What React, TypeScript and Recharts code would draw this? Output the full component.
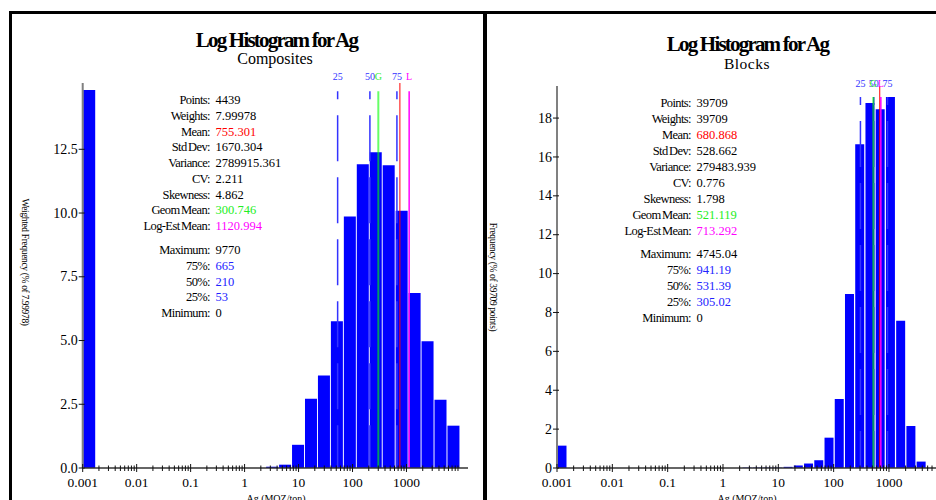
import React from 'react';
import { ComposedChart, Bar, XAxis, YAxis, ReferenceLine } from 'recharts';

// log10 lower edge of each bin; the first bin holds the zero values, drawn at 0.001
const compBinLo = [-3, 0.39, 0.63, 0.87, 1.11, 1.35, 1.59, 1.83, 2.07, 2.31, 2.55, 2.79, 3.03, 3.27, 3.51, 3.75];
const compFreq = [14.83, 0.05, 0.13, 0.91, 2.72, 3.63, 5.76, 9.86, 11.91, 12.38, 11.87, 10.09, 6.86, 4.97, 2.68, 1.66];
const compBinWidth = 0.24;

const blockBinLo = [-3, 0.346, 0.531, 0.716, 0.901, 1.086, 1.271, 1.456, 1.641, 1.826, 2.011, 2.196, 2.381, 2.566, 2.751, 2.936, 3.121, 3.306, 3.491];
const blockFreq = [1.15, 0.02, 0.02, 0.02, 0.02, 0.06, 0.13, 0.23, 0.4, 1.56, 3.55, 8.95, 16.66, 18.78, 18.46, 19.09, 7.57, 2.16, 0.33];
const blockBinWidth = 0.185;

const majorLabels = ['0.001', '0.01', '0.1', '1', '10', '100', '1000'];
const compYTicks = [0, 2.5, 5, 7.5, 10, 12.5];
const blockYTicks = [0, 2, 4, 6, 8, 10, 12, 14, 16, 18];

const statLabels = ['Points:', 'Weights:', 'Mean:', 'Std Dev:', 'Variance:', 'CV:', 'Skewness:', 'Geom Mean:', 'Log-Est Mean:', 'Maximum:', '75%:', '50%:', '25%:', 'Minimum:'];
const compStats = ['4439', '7.99978', '755.301', '1670.304', '2789915.361', '2.211', '4.862', '300.746', '1120.994', '9770', '665', '210', '53', '0'];
const blockStats = ['39709', '39709', '680.868', '528.662', '279483.939', '0.776', '1.798', '521.119', '713.292', '4745.04', '941.19', '531.39', '305.02', '0'];

const FONT = '"Liberation Serif", "Times New Roman", serif';
const BLUE_LINE = '#3333ff';

const valueColor = (i: number) => {
  if (i === 2) return '#ff0000';
  if (i === 7) return '#22ee22';
  if (i === 8) return '#ff00ff';
  if (i >= 10 && i <= 12) return '#2222ff';
  return '#000';
};

const buildXTicks = (xMax: number) => {
  const t: number[] = [];
  for (let d = -3; d <= 3; d++) {
    for (let k = 1; k <= 9; k++) {
      const v = Math.log10(k) + d;
      if (v < xMax - 0.01 && v < 4) t.push(v);
    }
  }
  return t;
};

const XTick = (props: any) => {
  const { x, y, payload } = props;
  const v = payload.value;
  const major = Math.abs(v - Math.round(v)) < 1e-6;
  return (
    <g>
      <line x1={x} x2={x} y1={y - (major ? 4 : 2.5)} y2={y + (major ? 4 : 3)} stroke="#111" strokeWidth={1} />
      {major && (
        <text x={x} y={y + 18.5} textAnchor="middle" fontSize={13.5} fontFamily={FONT} fill="#000">
          {majorLabels[Math.round(v) + 3]}
        </text>
      )}
    </g>
  );
};

const YTick = (props: any) => {
  const { x, y, payload, decimals } = props;
  return (
    <g>
      <line x1={x - 4} x2={x + 2} y1={y} y2={y} stroke="#111" strokeWidth={1} />
      <text x={x - 5} y={y} dy="0.33em" textAnchor="end" fontSize={14} fontFamily={FONT} fill="#000">
        {payload.value.toFixed(decimals)}
      </text>
    </g>
  );
};

interface HistProps {
  binLo: number[];
  freq: number[];
  binWidth: number;
  stats: string[];
  xMax: number;
  yMax: number;
  yTicks: number[];
  decimals: number;
  width: number;
  left: number;
  top: number;
  yAxisWidth: number;
  rightMargin: number;
  lineTop: number;
  labelOffset: number;
}

const LogHistogram: React.FC<HistProps> = (p) => {
  const data = p.binLo.map((lo, i) => ({ x: lo + p.binWidth / 2, v: p.freq[i] }));
  const lg = (i: number) => Math.log10(parseFloat(p.stats[i]));
  const dashed = [
    { label: '25', x: lg(12) },
    { label: '50', x: lg(11) },
    { label: '75', x: lg(10) },
  ];
  return (
    <div style={{ position: 'absolute', left: p.left, top: 0 }}>
      <ComposedChart
        width={p.width}
        height={500}
        data={data}
        margin={{ top: p.top, right: p.rightMargin, bottom: 0, left: 0 }}
        barCategoryGap={0.5}
      >
        <XAxis
          dataKey="x"
          type="number"
          domain={[-3, p.xMax]}
          allowDataOverflow
          ticks={buildXTicks(p.xMax)}
          interval={0}
          height={32}
          tickSize={0}
          tickMargin={0}
          tickLine={false}
          axisLine={{ stroke: '#333', strokeWidth: 1.5 }}
          tick={(tp: any) => <XTick {...tp} />}
        />
        <YAxis
          type="number"
          domain={[0, p.yMax]}
          allowDataOverflow
          ticks={p.yTicks}
          interval={0}
          width={p.yAxisWidth}
          tickSize={0}
          tickMargin={0}
          tickLine={false}
          axisLine={{ stroke: '#808080', strokeWidth: 2 }}
          tick={(tp: any) => <YTick {...tp} decimals={p.decimals} />}
        />
        <Bar dataKey="v" fill="#0000ff" isAnimationActive={false} />
        {dashed.map((m) => (
          <ReferenceLine
            key={m.label}
            segment={[{ x: m.x, y: p.lineTop }, { x: m.x, y: 0 }]}
            stroke={BLUE_LINE}
            strokeWidth={1.5}
            strokeDasharray="46 16"
            strokeDashoffset={38}
            label={{ value: m.label, position: 'top', fill: BLUE_LINE, fontSize: 10, fontFamily: FONT, offset: p.labelOffset }}
          />
        ))}
        <ReferenceLine
          segment={[{ x: lg(7), y: p.lineTop }, { x: lg(7), y: 0 }]}
          stroke="#00ff00"
          strokeOpacity={0.6}
          strokeWidth={2}
          label={{ value: 'G', position: 'top', fill: '#33ee33', fontSize: 10, fontFamily: FONT, offset: p.labelOffset }}
        />
        <ReferenceLine
          segment={[{ x: lg(2), y: p.yMax }, { x: lg(2), y: 0 }]}
          stroke="#ff0000"
          strokeWidth={1}
        />
        <ReferenceLine
          segment={[{ x: lg(8), y: p.lineTop }, { x: lg(8), y: 0 }]}
          stroke="#ff00ff"
          strokeWidth={1.5}
          label={{ value: 'L', position: 'top', fill: '#ff00ff', fontSize: 10, fontFamily: FONT, offset: p.labelOffset }}
        />
      </ComposedChart>
    </div>
  );
};

const Stats = ({ values, xColon, y0, step, gap }: { values: string[]; xColon: number; y0: number; step: number; gap: number }) => (
  <g fontFamily={FONT} fontSize={12.5}>
    {statLabels.map((lab, i) => {
      const y = y0 + i * step + (i >= 9 ? gap : 0);
      return (
        <g key={lab}>
          <text x={xColon} y={y} textAnchor="end" letterSpacing={-0.6} wordSpacing={-1} fill="#000">{lab}</text>
          <text x={xColon + 5.5} y={y} fill={valueColor(i)}>{values[i]}</text>
        </g>
      );
    })}
  </g>
);

export default function App() {
  return (
    <div style={{ position: 'fixed', left: 0, top: 0, width: 936, height: 500, overflow: 'hidden', background: '#fff' }}>
      <LogHistogram
        binLo={compBinLo}
        freq={compFreq}
        binWidth={compBinWidth}
        stats={compStats}
        xMax={4.14}
        yMax={15.1}
        yTicks={compYTicks}
        decimals={1}
        width={480}
        left={0}
        top={83}
        yAxisWidth={82.7}
        rightMargin={12}
        lineTop={14.78}
        labelOffset={11}
      />
      <LogHistogram
        binLo={blockBinLo}
        freq={blockFreq}
        binWidth={blockBinWidth}
        stats={blockStats}
        xMax={3.85}
        yMax={19.65}
        yTicks={blockYTicks}
        decimals={0}
        width={456}
        left={480}
        top={86}
        yAxisWidth={77}
        rightMargin={0}
        lineTop={19.09}
        labelOffset={10}
      />
      <svg width={936} height={500} style={{ position: 'absolute', left: 0, top: 0, pointerEvents: 'none' }}>
        <g fontFamily={FONT} fill="#000">
          <text x={276.5} y={46.5} textAnchor="middle" fontSize={21} fontWeight="bold" letterSpacing={-1.8} wordSpacing={0}>Log Histogram for Ag</text>
          <text x={275} y={64} textAnchor="middle" fontSize={16}>Composites</text>
          <text x={747.5} y={51} textAnchor="middle" fontSize={21} fontWeight="bold" letterSpacing={-1.8} wordSpacing={0}>Log Histogram for Ag</text>
          <text x={747} y={68.5} textAnchor="middle" fontSize={15.5} letterSpacing={0.5}>Blocks</text>
          <text transform="translate(22,262) rotate(90)" textAnchor="middle" fontSize={9.5} letterSpacing={-0.35}>Weighted Frequency (% of 7.99978)</text>
          <text transform="translate(490,277) rotate(90)" textAnchor="middle" fontSize={9.5} letterSpacing={-0.35}>Frequency (% of 39709 points)</text>
          <text x={276} y={502} textAnchor="middle" fontSize={10}>Ag (MOZ/ton)</text>
          <text x={747} y={502} textAnchor="middle" fontSize={10}>Ag (MOZ/ton)</text>
        </g>
        <Stats values={compStats} xColon={210} y0={104} step={15.75} gap={8.25} />
        <Stats values={blockStats} xColon={691} y0={107} step={16} gap={7} />
      </svg>
      <div style={{ position: 'absolute', left: 9, top: 11, width: 1000, height: 600, borderLeft: '3px solid #000', borderTop: '3px solid #000', boxSizing: 'border-box' }} />
      <div style={{ position: 'absolute', left: 483, top: 11, width: 4, height: 600, background: '#000' }} />
    </div>
  );
}
